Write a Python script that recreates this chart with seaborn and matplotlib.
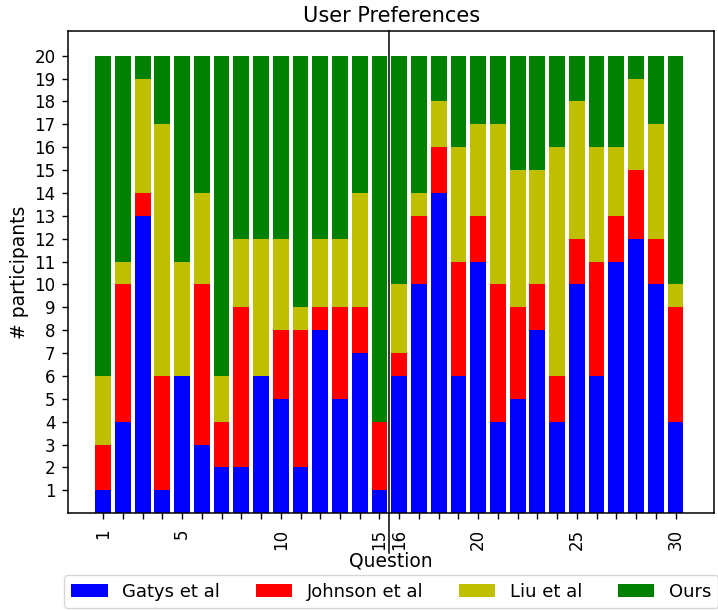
import numpy as np
import pandas as pd
import seaborn as sns
import matplotlib.pyplot as plt

questions = list(range(1, 31))
gatys = [1, 4, 13, 1, 6, 3, 2, 2, 6, 5, 2, 8, 5, 7, 1,
         6, 10, 14, 6, 11, 4, 5, 8, 4, 10, 6, 11, 12, 10, 4]
johnson = [2, 6, 1, 5, 0, 7, 2, 7, 0, 3, 6, 1, 4, 2, 3,
           1, 3, 2, 5, 2, 6, 4, 2, 2, 2, 5, 2, 3, 2, 5]
liu = [3, 1, 5, 11, 5, 4, 2, 3, 6, 4, 1, 3, 3, 5, 0,
       3, 1, 2, 5, 4, 7, 6, 5, 10, 6, 5, 3, 4, 5, 1]
ours = [14, 9, 1, 3, 9, 6, 14, 8, 8, 8, 11, 8, 8, 6, 16,
        10, 6, 2, 4, 3, 3, 5, 5, 4, 2, 4, 4, 1, 3, 10]

labels = ['Gatys et al', 'Johnson et al', 'Liu et al', 'Ours']
colors = ['b', 'r', 'y', 'g']
xtick_labels = [1, 5, 10, 15, 16, 20, 25, 30]

df = pd.DataFrame({'question': questions, 'Gatys et al': gatys,
                   'Johnson et al': johnson, 'Liu et al': liu, 'Ours': ours})
cum = df[labels].cumsum(axis=1)

fig, ax = plt.subplots(figsize=(7.18, 6.11), dpi=100)
# stacked bars: draw cumulative totals from the top series down
for lab, col in reversed(list(zip(labels, colors))):
    sns.barplot(x=df['question'], y=cum[lab], color=col, label=lab,
                native_scale=True, width=0.8, saturation=1, ax=ax)

ax.set_xlim(-0.77, 31.97)
ax.set_ylim(0, 21.1)
ax.set_yticks(range(1, 21))
ax.set_xticks(questions, minor=True)
ax.set_xticks(xtick_labels)
ax.set_xticklabels(xtick_labels, rotation=90)
ax.tick_params(which='both', labelsize=12, length=4.2, width=1)
ax.tick_params(axis='x', pad=7)
ax.tick_params(axis='y', pad=5)
for s in ax.spines.values():
    s.set_linewidth(1.1)
ax.axvline(15.5, ymin=-0.083, ymax=1, color='k', lw=1.1, clip_on=False)
ax.set_xlabel('Question', fontsize=13.5, labelpad=1)
ax.set_ylabel('# participants', fontsize=13.5)
ax.set_title('User Preferences', fontsize=15)

handles, labs = ax.get_legend_handles_labels()
order = [labs.index(l) for l in labels]
ax.legend([handles[i] for i in order], labels, ncol=4, loc='upper center',
          bbox_to_anchor=(0.5, -0.11), fontsize=13)

fig.subplots_adjust(left=0.095, right=0.995, top=0.95, bottom=0.16)
fig.savefig('out.png', dpi=100)
